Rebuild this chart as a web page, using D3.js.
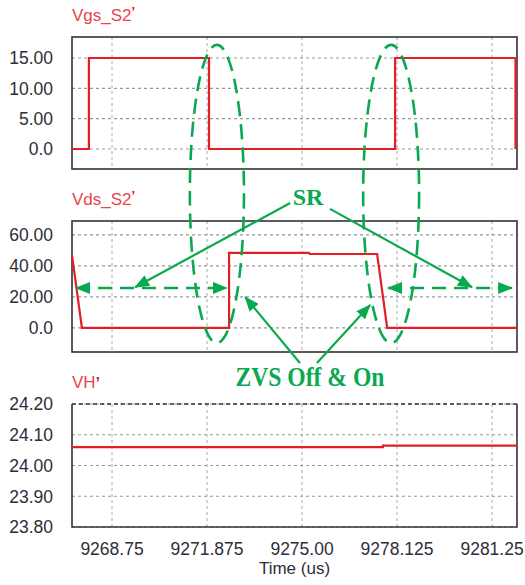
<!DOCTYPE html>
<html>
<head>
<meta charset="utf-8">
<script src="https://cdn.jsdelivr.net/npm/d3@7"></script>
<style>
  body { margin: 0; background: #fff; }
  svg { display: block; }
</style>
</head>
<body>
<div id="chart"></div>
<script>
var W = 525, H = 585;
var LEFT = 72, RIGHT = 517;

var RED = "#e21f26",
  TITLE_RED = "#e8454b",
  GREEN = "#0aa84f",
  TEXT = "#2e2e38",
  FRAME = "#333";

// time axis (us)
var xDomain = [9267.434, 9282.07];
var xTicks = [9268.75, 9271.875, 9275.00, 9278.125, 9281.25];
var xTickLabels = ["9268.75", "9271.875", "9275.00", "9278.125", "9281.25"];

// Vgs_S2'
var vgsTime = [9267.434, 9267.99, 9267.99, 9271.94, 9271.94, 9278.06, 9278.06, 9282.02, 9282.02];
var vgsVal = [0, 0, 15, 15, 0, 0, 15, 15, 0];
var vgsTicks = [0, 5, 10, 15];
var vgsTickLabels = ["0.0", "5.00", "10.00", "15.00"];

// Vds_S2'
var vdsTime = [9267.434, 9267.76, 9272.60, 9272.60, 9275.23, 9275.25, 9277.47, 9277.80, 9282.07];
var vdsVal = [47, 0, 0, 48.5, 48.4, 47.7, 47.7, 0, 0];
var vdsTicks = [0, 20, 40, 60];
var vdsTickLabels = ["0.0", "20.00", "40.00", "60.00"];

// VH'
var vhTime = [9267.434, 9277.66, 9277.66, 9282.07];
var vhVal = [24.060, 24.060, 24.0645, 24.0645];
var vhTicks = [23.8, 23.9, 24.0, 24.1, 24.2];
var vhTickLabels = ["23.80", "23.90", "24.00", "24.10", "24.20"];

// annotations (time in us, value in Vds volts)
var ellipses = [
  { t: 9272.20, vTop: 182.6, vBottom: -9.7, halfWidth: 0.89 },
  { t: 9277.93, vTop: 182.6, vBottom: -9.7, halfWidth: 0.92 }
];
var srArrows = [
  { t0: 9274.61, v0: 80.6, t1: 9269.51, v1: 26.3 },
  { t0: 9275.92, v0: 76.8, t1: 9280.59, v1: 26.3 }
];
var srSpans = [
  { t0: 9267.566, t1: 9272.53, v: 25.8 },
  { t0: 9277.83, t1: 9281.91, v: 25.8 }
];
var zvsArrows = [
  { t0: 9274.93, v0: -22.6, t1: 9273.13, v1: 20.0 },
  { t0: 9275.49, v0: -22.6, t1: 9277.24, v1: 14.8 }
];

var panels = [
  { title: "Vgs_S2", top: 37, bottom: 169, domain: [-3.3, 18.46], time: vgsTime, val: vgsVal,
    ticks: vgsTicks, labels: vgsTickLabels, titleY: 21 },
  { title: "Vds_S2", top: 221, bottom: 352, domain: [-15.5, 69], time: vdsTime, val: vdsVal,
    ticks: vdsTicks, labels: vdsTickLabels, titleY: 205 },
  { title: "VH", top: 404, bottom: 527, domain: [23.8, 24.2], time: vhTime, val: vhVal,
    ticks: vhTicks, labels: vhTickLabels, titleY: 388 }
];

var x = d3.scaleLinear().domain(xDomain).range([LEFT, RIGHT]);

var svg = d3.select("#chart").append("svg")
  .attr("width", W)
  .attr("height", H)
  .style("font-family", "'Liberation Sans', Arial, sans-serif");

var defs = svg.append("defs");
defs.append("marker")
  .attr("id", "head")
  .attr("markerUnits", "userSpaceOnUse")
  .attr("markerWidth", 15)
  .attr("markerHeight", 12)
  .attr("refX", 14)
  .attr("refY", 6)
  .attr("orient", "auto-start-reverse")
  .append("path")
  .attr("d", "M0,0 L15,6 L0,12 Z")
  .attr("fill", GREEN);

panels.forEach(function(p, i) {
  var y = d3.scaleLinear().domain(p.domain).range([p.bottom, p.top]);
  p.y = y;
  var g = svg.append("g");

  // title
  var t = g.append("text")
    .attr("x", LEFT)
    .attr("y", p.titleY)
    .attr("fill", TITLE_RED)
    .style("font-size", "17px")
    .text(p.title);
  t.append("tspan")
    .attr("dy", i == 2 ? -1 : -5)
    .attr("font-weight", "bold")
    .style("font-size", i == 2 ? "15px" : "13px")
    .attr("fill", i == 2 ? "#c0141a" : "#ff0000")
    .text("’");

  // grid
  g.append("g").selectAll("line.h")
    .data(p.ticks)
    .enter()
    .append("line")
    .attr("x1", LEFT).attr("x2", RIGHT)
    .attr("y1", function(d) { return y(d); })
    .attr("y2", function(d) { return y(d); })
    .attr("stroke", "#999")
    .attr("stroke-width", 1.2)
    .attr("stroke-dasharray", "3,3");

  g.append("g").selectAll("line.v")
    .data(xTicks)
    .enter()
    .append("line")
    .attr("x1", function(d) { return x(d); })
    .attr("x2", function(d) { return x(d); })
    .attr("y1", p.top).attr("y2", p.bottom)
    .attr("stroke", "#aaa")
    .attr("stroke-width", 1)
    .attr("stroke-dasharray", "3,3");

  // frame
  if (i == 2) {
    g.append("path")
      .attr("d", "M" + LEFT + "," + p.top + "V" + p.bottom + "H" + RIGHT + "V" + p.top)
      .attr("fill", "none")
      .attr("stroke", FRAME)
      .attr("stroke-width", 1.6);
    g.append("line")
      .attr("x1", LEFT).attr("x2", RIGHT)
      .attr("y1", p.top).attr("y2", p.top)
      .attr("stroke", FRAME)
      .attr("stroke-width", 1.6)
      .attr("stroke-dasharray", "4,3");
  } else {
    g.append("rect")
      .attr("x", LEFT).attr("y", p.top)
      .attr("width", RIGHT - LEFT).attr("height", p.bottom - p.top)
      .attr("fill", "none")
      .attr("stroke", FRAME)
      .attr("stroke-width", 1.6);
  }

  // y tick labels
  g.append("g").selectAll("text")
    .data(p.ticks)
    .enter()
    .append("text")
    .attr("x", 53)
    .attr("y", function(d) { return y(d); })
    .attr("dy", "0.36em")
    .attr("text-anchor", "end")
    .attr("fill", TEXT)
    .style("font-size", "17.5px")
    .text(function(d, j) { return p.labels[j]; });

  // waveform
  var line = d3.line()
    .x(function(d) { return x(d[0]); })
    .y(function(d) { return y(d[1]); });
  g.append("path")
    .datum(d3.zip(p.time, p.val))
    .attr("d", line)
    .attr("fill", "none")
    .attr("stroke", RED)
    .attr("stroke-width", 2.2);
});

// x tick labels under the last panel
svg.append("g").selectAll("text")
  .data(xTicks)
  .enter()
  .append("text")
  .attr("x", function(d) { return x(d); })
  .attr("y", 555)
  .attr("text-anchor", "middle")
  .attr("fill", TEXT)
  .style("font-size", "17.5px")
  .text(function(d, i) { return xTickLabels[i]; });

svg.append("text")
  .attr("x", (LEFT + RIGHT) / 2)
  .attr("y", 574)
  .attr("text-anchor", "middle")
  .attr("fill", TEXT)
  .style("font-size", "17px")
  .text("Time (us)");

// annotations, placed with the Vds panel scale
var ya = panels[1].y;
var ann = svg.append("g");

ann.selectAll("ellipse")
  .data(ellipses)
  .enter()
  .append("ellipse")
  .attr("cx", function(d) { return x(d.t); })
  .attr("cy", function(d) { return (ya(d.vTop) + ya(d.vBottom)) / 2; })
  .attr("rx", function(d) { return x(d.t + d.halfWidth) - x(d.t); })
  .attr("ry", function(d) { return (ya(d.vBottom) - ya(d.vTop)) / 2; })
  .attr("fill", "none")
  .attr("stroke", GREEN)
  .attr("stroke-width", 2.6)
  .attr("stroke-dasharray", "15,8");

ann.selectAll("line.span")
  .data(srSpans)
  .enter()
  .append("line")
  .attr("x1", function(d) { return x(d.t0); })
  .attr("x2", function(d) { return x(d.t1); })
  .attr("y1", function(d) { return ya(d.v); })
  .attr("y2", function(d) { return ya(d.v); })
  .attr("stroke", GREEN)
  .attr("stroke-width", 2.4)
  .attr("stroke-dasharray", "14,8")
  .attr("marker-start", "url(#head)")
  .attr("marker-end", "url(#head)");

ann.selectAll("line.arrow")
  .data(srArrows.concat(zvsArrows))
  .enter()
  .append("line")
  .attr("x1", function(d) { return x(d.t0); })
  .attr("y1", function(d) { return ya(d.v0); })
  .attr("x2", function(d) { return x(d.t1); })
  .attr("y2", function(d) { return ya(d.v1); })
  .attr("stroke", GREEN)
  .attr("stroke-width", 2.2)
  .attr("marker-end", "url(#head)");

ann.append("text")
  .attr("x", x(9275.20))
  .attr("y", ya(79.4))
  .attr("text-anchor", "middle")
  .attr("fill", GREEN)
  .style("font-family", "'Liberation Serif', 'Times New Roman', serif")
  .style("font-weight", "bold")
  .style("font-size", "24px")
  .text("SR");

ann.append("text")
  .attr("x", x(9275.26))
  .attr("y", ya(-37.4))
  .attr("text-anchor", "middle")
  .attr("fill", GREEN)
  .attr("textLength", 149)
  .attr("lengthAdjust", "spacingAndGlyphs")
  .style("font-family", "'Liberation Serif', 'Times New Roman', serif")
  .style("font-weight", "bold")
  .style("font-size", "27px")
  .text("ZVS Off & On");
</script>
</body>
</html>
